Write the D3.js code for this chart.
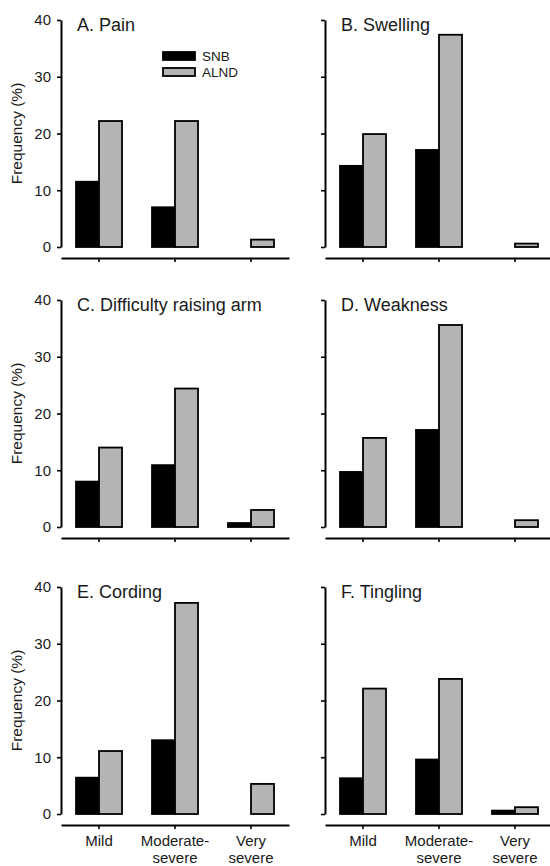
<!DOCTYPE html>
<html>
<head>
<meta charset="utf-8">
<script src="https://cdn.jsdelivr.net/npm/d3@7"></script>
<style>
  body { margin: 0; background: #fff; }
  text { font-family: "Liberation Sans", Arial, sans-serif; fill: #1a1a1a; }
</style>
</head>
<body>
<script>
// symptom severity, SNB vs ALND, six panels
var categories = ["Mild", "Moderate-severe", "Very severe"];
var catLines = [["Mild"], ["Moderate-", "severe"], ["Very", "severe"]];
var titles = ["A. Pain", "B. Swelling", "C. Difficulty raising arm", "D. Weakness", "E. Cording", "F. Tingling"];
var snb = [[11.5, 7.0, 0], [14.3, 17.1, 0], [8.0, 10.9, 0.7], [9.7, 17.1, 0], [6.4, 13.0, 0], [6.3, 9.6, 0.6]];
var alnd = [[22.2, 22.2, 1.3], [19.9, 37.4, 0.6], [14.0, 24.4, 3.0], [15.7, 35.6, 1.2], [11.1, 37.2, 5.3], [22.1, 23.8, 1.2]];
var yTicks = [0, 10, 20, 30, 40];
var series = ["SNB", "ALND"];

var w = 550, h = 866;
var colX = [61, 325];      // y axis position of each column
var rowTop = [20, 300, 587];
var ph = 227;              // plot height
var xw = 228;              // x axis width
var barW = 23;
var fills = ["#000000", "#b4b4b4"];

var svg = d3.select("body").append("svg")
		.attr("width", w)
		.attr("height", h);

var x = d3.scaleBand().domain(categories).range([0, xw]);

for (var p = 0; p < titles.length; p++) {
	var col = p % 2, row = Math.floor(p / 2);
	var g = svg.append("g")
			.attr("transform", "translate(" + colX[col] + "," + rowTop[row] + ")");
	var y = d3.scaleLinear().domain([0, 40]).range([ph, 0]);

	// y axis
	var ya = g.append("g")
			.call(d3.axisLeft(y).tickValues(yTicks).tickSize(4).tickSizeOuter(0)
				.tickFormat(col == 0 ? d3.format("d") : function() { return ""; }));
	ya.select(".domain").attr("stroke-width", 2);
	ya.selectAll(".tick line").attr("stroke-width", 1.6);
	ya.selectAll(".tick text")
		.attr("x", -10)
		.style("font-size", "15px")
		.style("font-family", "'Liberation Sans', Arial, sans-serif")
		.attr("fill", "#1a1a1a");

	// x axis, a little below the zero line
	var xa = g.append("g")
			.attr("transform", "translate(0," + (ph + 11) + ")")
			.call(d3.axisBottom(x).tickSize(4).tickSizeOuter(0));
	xa.select(".domain").attr("stroke-width", 2);
	xa.selectAll(".tick line").attr("stroke-width", 1.6);
	xa.selectAll(".tick text").remove();
	if (row == 2) {
		xa.selectAll(".tick").each(function(d, i) {
			var t = d3.select(this).append("text")
					.attr("text-anchor", "middle")
					.style("font-size", "15px")
					.attr("fill", "#1a1a1a");
			catLines[i].forEach(function(s, k) {
				t.append("tspan").attr("x", 0).attr("y", 21 + k * 17).text(s);
			});
		});
	}

	// bars
	var vals = [snb[p], alnd[p]];
	for (var s = 0; s < 2; s++) {
		g.selectAll(".bar" + s)
			.data(vals[s].map(function(v, i) { return {c: categories[i], v: v}; })
				.filter(function(d) { return d.v > 0; }))
			.enter().append("rect")
			.attr("class", "bar" + s)
			.attr("x", function(d) { return x(d.c) + x.bandwidth() / 2 - (s == 0 ? barW : 0); })
			.attr("y", function(d) { return y(d.v); })
			.attr("width", barW)
			.attr("height", function(d) { return y(0) - y(d.v); })
			.attr("fill", fills[s])
			.attr("stroke", "#000")
			.attr("stroke-width", 1.8);
	}

	// panel title
	g.append("text")
		.attr("x", 16)
		.attr("y", 11)
		.style("font-size", "18px")
		.text(titles[p]);

	// y label
	if (col == 0) {
		svg.append("text")
			.attr("transform", "translate(22," + (rowTop[row] + ph / 2) + ") rotate(-90)")
			.attr("text-anchor", "middle")
			.style("font-size", "15.5px")
			.text("Frequency (%)");
	}
}

// legend in panel A
var leg = svg.append("g");
series.forEach(function(name, i) {
	leg.append("rect")
		.attr("x", 163)
		.attr("y", 52 + i * 16)
		.attr("width", 32)
		.attr("height", 8)
		.attr("fill", fills[i])
		.attr("stroke", "#000")
		.attr("stroke-width", 1.8);
	leg.append("text")
		.attr("x", 202)
		.attr("y", 56 + i * 16)
		.attr("dy", "0.35em")
		.style("font-size", "13.5px")
		.text(name);
});
</script>
</body>
</html>
